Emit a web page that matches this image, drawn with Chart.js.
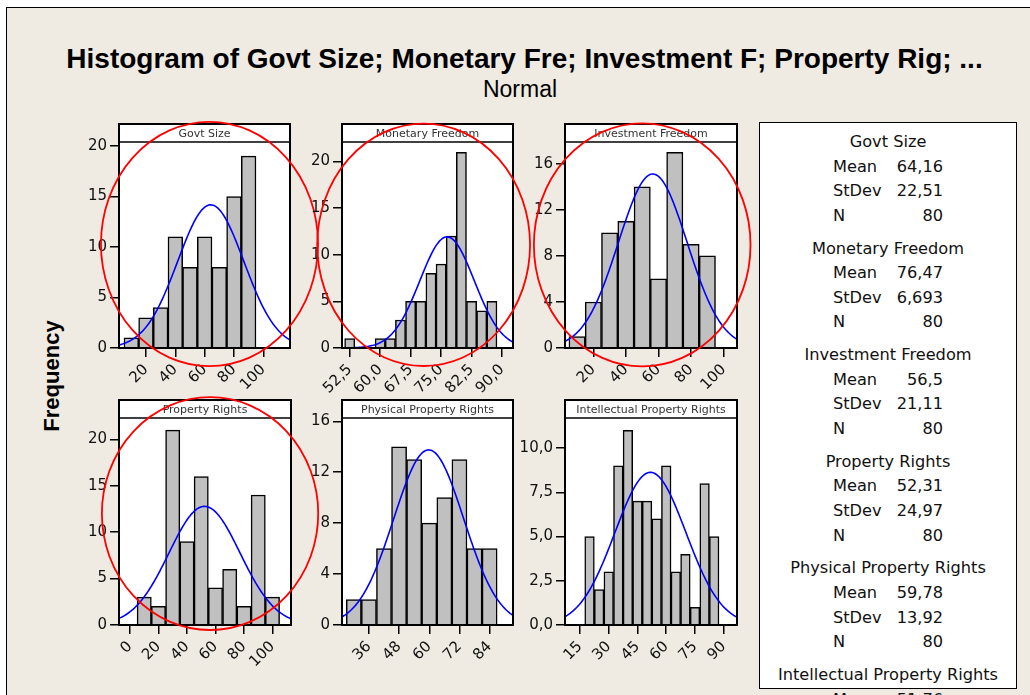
<!DOCTYPE html>
<html>
<head>
<meta charset="utf-8">
<script src="https://cdn.jsdelivr.net/npm/chart.js@4.4.1/dist/chart.umd.min.js"></script>
<style>
  html, body { margin: 0; padding: 0; background: #fff; }
  body { width: 1030px; height: 695px; overflow: hidden; position: relative; font-family: 'DejaVu Sans', sans-serif; }
  #frame { position: absolute; left: 6px; top: 7px; width: 1040px; height: 700px; background: #EFEBE2; border-left: 1px solid #000; border-top: 1px solid #000; }
  #title { position: absolute; left: 0; width: 1049px; top: 43px; line-height: 28px; text-align: center; font: bold 28px 'Liberation Sans', Arial, sans-serif; color: #000; white-space: nowrap; }
  #subtitle { position: absolute; left: 0; width: 1040px; top: 76px; line-height: 23px; text-align: center; font: 23px 'Liberation Sans', Arial, sans-serif; color: #000; }
  #ylabel { position: absolute; left: -50px; top: 365px; width: 200px; height: 22px; line-height: 22px; text-align: center; font: bold 22px 'Liberation Sans', Arial, sans-serif; transform: rotate(-90deg); }
  canvas { position: absolute; }
  #legend { position: absolute; left: 759px; top: 122px; width: 256px; height: 565px; background: #fff; border: 1.5px solid #000; }
  .lg { position: absolute; font-size: 16.2px; line-height: 20px; color: #111; white-space: nowrap; }
</style>
</head>
<body>
<div id="frame"></div>
<div id="title">Histogram of Govt Size; Monetary Fre; Investment F; Property Rig; ...</div>
<div id="subtitle">Normal</div>
<div id="ylabel">Frequency</div>
<div id="legend"></div>
<div id="legendText"></div>
<script>
// data
const panelTitles = ['Govt Size', 'Monetary Freedom', 'Investment Freedom', 'Property Rights', 'Physical Property Rights', 'Intellectual Property Rights'];
const binCenters = [
  [10, 20, 30, 40, 50, 60, 70, 80, 90],
  [52.5, 55, 57.5, 60, 62.5, 65, 67.5, 70, 72.5, 75, 77.5, 80, 82.5, 85, 87.5],
  [10, 20, 30, 40, 50, 60, 70, 80, 90],
  [10, 20, 30, 40, 50, 60, 70, 80, 90, 100],
  [30, 36, 42, 48, 54, 60, 66, 72, 78, 84],
  [20, 25, 30, 35, 40, 45, 50, 55, 60, 65, 70, 75, 80, 85]
];
const frequencies = [
  [1, 3, 4, 11, 8, 11, 8, 15, 19],
  [1, 0, 0, 1, 1, 3, 5, 5, 8, 9, 12, 21, 5, 4, 5],
  [1, 4, 10, 11, 14, 6, 17, 9, 8],
  [3, 2, 21, 9, 16, 4, 6, 2, 14, 3],
  [2, 2, 6, 14, 13, 8, 10, 13, 6, 6],
  [5, 2, 3, 9, 11, 7, 7, 6, 9, 3, 4, 1, 8, 5]
];
const binWidths = [10, 2.5, 10, 10, 6, 5];
const means = [64.16, 76.47, 56.5, 52.31, 59.78, 51.76];
const stDevs = [22.51, 6.693, 21.11, 24.97, 13.92, 18.5];
const sampleSizes = [80, 80, 80, 80, 80, 80];
const legendStDevShown = [true, true, true, true, true, false];

const xTickValues = [
  [20, 40, 60, 80, 100],
  [52.5, 60, 67.5, 75, 82.5, 90],
  [20, 40, 60, 80, 100],
  [0, 20, 40, 60, 80, 100],
  [36, 48, 60, 72, 84],
  [15, 30, 45, 60, 75, 90]
];
const xTickDecimals = [0, 1, 0, 0, 0, 0];
const yTickValues = [
  [0, 5, 10, 15, 20],
  [0, 5, 10, 15, 20],
  [0, 4, 8, 12, 16],
  [0, 5, 10, 15, 20],
  [0, 4, 8, 12, 16],
  [0, 2.5, 5, 7.5, 10]
];
const yTickDecimals = [0, 0, 0, 0, 0, 1];
const xMins = [1.6, 50.6, 2.6, -7.7, 25.3, 7.2];
const xMaxs = [118.2, 92.7, 108.2, 113, 93.3, 96.9];
const yMaxs = [20.4, 22.1, 17.9, 22.3, 16.26, 11.7];

// hand drawn red rings, in data units of each panel
const ringCenterX = [63.3, 70.7, 50, 56.2, null, null];
const ringCenterY = [10.3, 11.07, 8.96, 12.0, null, null];
const ringRadiusX = [74, 26.2, 66.5, 75.9, null, null];
const ringRadiusY = [12.1, 13.0, 10.56, 12.54, null, null];

// page layout of the plot areas
const plotBoxes = [
  { left: 119, top: 142, right: 290, bottom: 348 },
  { left: 342, top: 142, right: 513, bottom: 348 },
  { left: 565, top: 142, right: 737, bottom: 348 },
  { left: 119, top: 418, right: 291, bottom: 625 },
  { left: 342, top: 418, right: 513, bottom: 625 },
  { left: 565, top: 418, right: 737, bottom: 625 }
];
const HEADER = 18;
const PAD_L = 20, AXIS_W = 60, PAD_T = 48, PAD_R = 45, AXIS_H = 50, PAD_B = 5;

Chart.defaults.font.family = "'DejaVu Sans', sans-serif";
Chart.defaults.color = '#111';

const comma = (v, d) => v.toFixed(d).replace('.', ',');

const panelFrame = {
  id: 'panelFrame',
  beforeDraw(chart, args, opts) {
    const { ctx, chartArea: { left, top, right, bottom } } = chart;
    ctx.save();
    ctx.fillStyle = '#fff';
    ctx.fillRect(left, top - HEADER, right - left, bottom - top + HEADER);
    ctx.restore();
  },
  afterDatasetsDraw(chart, args, opts) {
    const { ctx, chartArea: { left, top, right, bottom } } = chart;
    ctx.save();
    ctx.strokeStyle = '#000';
    ctx.lineWidth = 2;
    ctx.strokeRect(left, top - HEADER, right - left, bottom - top + HEADER);
    ctx.lineWidth = 1.5;
    ctx.beginPath();
    ctx.moveTo(left, top);
    ctx.lineTo(right, top);
    ctx.stroke();
    ctx.fillStyle = '#333';
    ctx.font = "11px 'DejaVu Sans'";
    ctx.textAlign = 'center';
    ctx.textBaseline = 'middle';
    ctx.fillText(opts.title, (left + right) / 2, top - HEADER / 2 + 1);
    ctx.restore();
  },
  afterDraw(chart, args, opts) {
    if (opts.cx == null) return;
    const { ctx, scales: { x, y } } = chart;
    const cx = x.getPixelForValue(opts.cx);
    const cy = y.getPixelForValue(opts.cy);
    const rx = Math.abs(x.getPixelForValue(opts.cx + opts.rx) - cx);
    const ry = Math.abs(y.getPixelForValue(opts.cy + opts.ry) - cy);
    ctx.save();
    ctx.strokeStyle = '#FF0000';
    ctx.lineWidth = 1.8;
    ctx.beginPath();
    ctx.ellipse(cx, cy, rx, ry, 0, 0, Math.PI * 2);
    ctx.stroke();
    ctx.restore();
  }
};

plotBoxes.forEach((box, i) => {
  const w = box.right - box.left, h = box.bottom - box.top;
  const canvas = document.createElement('canvas');
  canvas.width = PAD_L + AXIS_W + w + PAD_R;
  canvas.height = PAD_T + h + AXIS_H + PAD_B;
  canvas.style.left = (box.left - PAD_L - AXIS_W) + 'px';
  canvas.style.top = (box.top - PAD_T) + 'px';
  canvas.style.width = canvas.width + 'px';
  canvas.style.height = canvas.height + 'px';
  document.body.appendChild(canvas);

  // fitted normal curve from the legend's mean and stdev
  const curve = [];
  const steps = 160;
  const peak = sampleSizes[i] * binWidths[i] / (stDevs[i] * Math.sqrt(2 * Math.PI));
  for (let k = 0; k <= steps; k++) {
    const xv = xMins[i] + (xMaxs[i] - xMins[i]) * k / steps;
    const z = (xv - means[i]) / stDevs[i];
    curve.push({ x: xv, y: peak * Math.exp(-0.5 * z * z) });
  }

  new Chart(canvas, {
    type: 'bar',
    data: {
      datasets: [{
        type: 'bar',
        data: binCenters[i].map((c, k) => ({ x: c, y: frequencies[i][k] })),
        backgroundColor: '#C0C0C0',
        borderColor: '#000',
        borderWidth: 1.5,
        barPercentage: 1,
        categoryPercentage: 1,
        order: 2
      }, {
        type: 'line',
        data: curve,
        borderColor: '#0000FF',
        borderWidth: 1.6,
        pointRadius: 0,
        tension: 0,
        order: 1
      }]
    },
    options: {
      responsive: false,
      animation: false,
      events: [],
      layout: { padding: { left: PAD_L, top: PAD_T, right: PAD_R, bottom: PAD_B } },
      plugins: {
        legend: { display: false },
        tooltip: { enabled: false },
        panelFrame: {
          title: panelTitles[i],
          cx: ringCenterX[i], cy: ringCenterY[i], rx: ringRadiusX[i], ry: ringRadiusY[i]
        }
      },
      scales: {
        x: {
          type: 'linear',
          min: xMins[i],
          max: xMaxs[i],
          offset: false,
          border: { display: false },
          grid: { offset: false, drawOnChartArea: false, drawTicks: true, tickLength: 9, color: '#000', lineWidth: 1.5 },
          ticks: {
            autoSkip: false, minRotation: 45, maxRotation: 45, padding: 4,
            font: { size: 15 },
            callback: v => comma(v, xTickDecimals[i])
          },
          afterBuildTicks: s => { s.ticks = xTickValues[i].map(v => ({ value: v })); },
          afterFit: s => { s.height = AXIS_H; }
        },
        y: {
          min: 0,
          max: yMaxs[i],
          border: { display: false },
          grid: { drawOnChartArea: false, drawTicks: true, tickLength: 9, color: '#000', lineWidth: 1.5 },
          ticks: {
            padding: 3,
            font: { size: 15 },
            callback: v => comma(v, yTickDecimals[i])
          },
          afterBuildTicks: s => { s.ticks = yTickValues[i].map(v => ({ value: v })); },
          afterFit: s => { s.width = AXIS_W; }
        }
      }
    },
    plugins: [panelFrame]
  });
});

// legend text
const legendText = document.getElementById('legendText');
function addLine(text, y, left, align) {
  const d = document.createElement('div');
  d.className = 'lg';
  d.textContent = text;
  d.style.top = (y - 10) + 'px';
  if (align === 'center') {
    d.style.left = (left - 150) + 'px';
    d.style.width = '300px';
    d.style.textAlign = 'center';
  } else if (align === 'right') {
    d.style.left = (left - 100) + 'px';
    d.style.width = '100px';
    d.style.textAlign = 'right';
  } else {
    d.style.left = left + 'px';
  }
  legendText.appendChild(d);
}
panelTitles.forEach((t, g) => {
  const y0 = 142 + g * 106.6;
  addLine(t, y0, 888, 'center');
  addLine('Mean', y0 + 24.6, 833, 'left');
  addLine(String(means[g]).replace('.', ','), y0 + 24.6, 943, 'right');
  if (!legendStDevShown[g]) return;
  addLine('StDev', y0 + 49.2, 833, 'left');
  addLine(String(stDevs[g]).replace('.', ','), y0 + 49.2, 943, 'right');
  addLine('N', y0 + 73.8, 833, 'left');
  addLine(String(sampleSizes[g]), y0 + 73.8, 943, 'right');
});
</script>
</body>
</html>
